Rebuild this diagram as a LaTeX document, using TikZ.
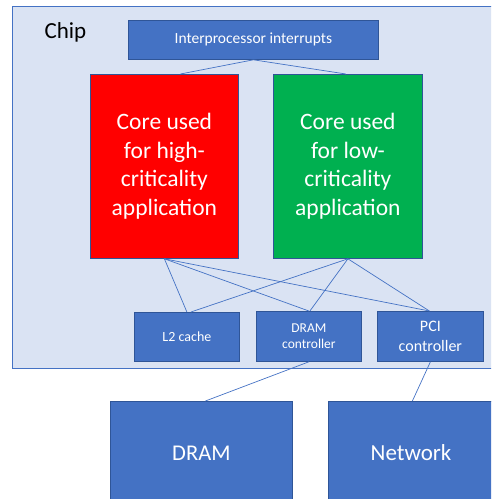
\documentclass[tikz,border=0pt]{standalone}
\usepackage{fontspec}
\setmainfont{Carlito}
\usetikzlibrary{calc}
\definecolor{chipfill}{HTML}{DAE3F3}
\definecolor{boxblue}{HTML}{4472C4}
\definecolor{boxedge}{HTML}{2F5597}
\definecolor{corered}{HTML}{FF0000}
\definecolor{coregreen}{HTML}{00B050}
\tikzset{
  bluebox/.style={draw=boxedge, line width=0.8pt, fill=boxblue, text=white, align=center, inner sep=0pt, anchor=north west},
  corebox/.style={draw=boxedge, line width=0.8pt, text=white, align=center, inner sep=0pt, anchor=north west, font=\fontsize{23.5}{28.5}\selectfont},
  link/.style={draw=boxblue, line width=0.7pt},
}
\begin{document}
\begin{tikzpicture}[x=1pt,y=-1pt]
\useasboundingbox (0,0) rectangle (491,499);
\begin{scope}
\clip (0,0) rectangle (491,499);
\draw[draw=boxblue, line width=0.9pt, fill=chipfill] (12,6) rectangle (500,368);
\node[anchor=west, font=\fontsize{23}{26}\selectfont] (chip) at (41,32) {Chip};
\node[bluebox, minimum width=250pt, minimum height=39pt, font=\fontsize{15.5}{18}\selectfont] (ipi) at (128,20) {Interprocessor interrupts};
\node[corebox, fill=corered, minimum width=148pt, minimum height=184pt] (red) at (90,74) {Core used\\for high-\\criticality\\application};
\node[corebox, fill=coregreen, minimum width=149pt, minimum height=184pt] (green) at (273,74) {Core used\\for low-\\criticality\\application};
\node[bluebox, minimum width=105pt, minimum height=49pt, font=\fontsize{14}{16}\selectfont] (l2) at (134,312) {L2 cache};
\node[bluebox, minimum width=105pt, minimum height=50pt, font=\fontsize{13.5}{16}\selectfont] (dctl) at (256,311) {DRAM\\controller};
\node[bluebox, minimum width=106pt, minimum height=50pt, font=\fontsize{16}{20}\selectfont] (pci) at (377,311) {PCI\\controller};
\node[bluebox, minimum width=182pt, minimum height=104pt, font=\fontsize{22.5}{26}\selectfont] (dram) at (110,401) {DRAM};
\node[bluebox, minimum width=180pt, minimum height=110pt] (net) at (328,401) {};
\node[text=white, font=\fontsize{23}{26}\selectfont] (nettext) at (411,453) {Network};
\draw[link] (ipi.south) -- ([xshift=16pt]red.north);
\draw[link] (ipi.south) -- ([xshift=-2pt]green.north);
\draw[link] (red.south) -- (l2.north);
\draw[link] (red.south) -- (dctl.north);
\draw[link] (red.south) -- ([xshift=-1pt]pci.north);
\draw[link] (green.south) -- ([xshift=4pt]l2.north);
\draw[link] (green.south) -- ([xshift=1pt]dctl.north);
\draw[link] (green.south) -- ([xshift=-1pt]pci.north);
\draw[link] (dctl.south) -- ([xshift=4pt]dram.north);
\draw[link] (pci.south) -- ([xshift=-6pt]net.north);
\end{scope}
\end{tikzpicture}
\end{document}
